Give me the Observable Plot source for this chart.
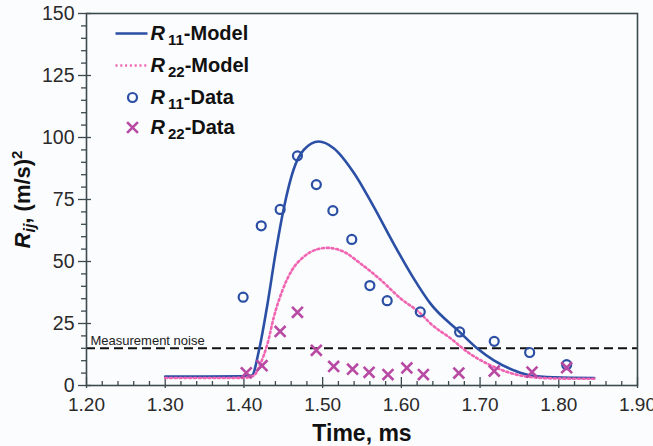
<!DOCTYPE html>
<html>
<head>
<meta charset="utf-8">
<script src="https://cdn.jsdelivr.net/npm/d3@7"></script>
<script src="https://cdn.jsdelivr.net/npm/@observablehq/plot@0.6"></script>
<style>
  html, body { margin: 0; padding: 0; background: #fbfcfe; }
  #chart svg { display: block; font-family: "Liberation Sans", Arial, sans-serif; }
</style>
</head>
<body>
<div id="chart"></div>
<script>
// Model curves: time (ms) and Reynolds stress (m/s)^2
const r11ModelT = [1.30, 1.35, 1.40, 1.41, 1.419, 1.43, 1.44, 1.451, 1.463, 1.476, 1.495, 1.514, 1.54, 1.565, 1.59, 1.616, 1.637, 1.674, 1.697, 1.718, 1.743, 1.764, 1.794, 1.845];
const r11ModelV = [3.6, 3.6, 3.7, 4.0, 14, 33, 53, 72, 87, 95, 98.4, 95.7, 85.6, 72, 57.3, 43, 33, 21.6, 14.8, 10, 6.1, 4.0, 3.3, 3.0];
const r22ModelT = [1.30, 1.35, 1.40, 1.4126, 1.421, 1.43, 1.438, 1.449, 1.461, 1.476, 1.493, 1.506, 1.527, 1.548, 1.574, 1.599, 1.6245, 1.637, 1.663, 1.684, 1.709, 1.735, 1.764, 1.80, 1.845];
const r22ModelV = [3.0, 3.0, 3.1, 4.0, 8.8, 16.9, 27.6, 38.4, 46.5, 51.9, 54.9, 55.5, 53.9, 49.2, 42.5, 35.1, 29, 25, 18.9, 13.5, 8.8, 5.4, 3.4, 2.8, 2.7];

// Measured data
const r11DataT = [1.399, 1.422, 1.446, 1.468, 1.492, 1.513, 1.537, 1.560, 1.582, 1.624, 1.674, 1.718, 1.763, 1.810];
const r11DataV = [35.6, 64.4, 71, 92.6, 81, 70.5, 58.9, 40.3, 34.2, 29.7, 21.6, 17.8, 13.3, 8.4];
const r22DataT = [1.403, 1.423, 1.446, 1.468, 1.492, 1.514, 1.538, 1.559, 1.583, 1.607, 1.628, 1.673, 1.718, 1.766, 1.810];
const r22DataV = [5.1, 8.0, 21.8, 29.5, 14.2, 7.7, 6.6, 5.3, 4.4, 7.1, 4.4, 5.0, 5.8, 5.4, 7.2];

const noiseLevel = 15;
const noiseLabel = "Measurement noise";

// Axes
const xTicks = [1.20, 1.30, 1.40, 1.50, 1.60, 1.70, 1.80, 1.90];
const xMinor = d3.range(0, 36).map(i => 1.2 + i * 0.02).filter(v => Math.abs(v * 10 - Math.round(v * 10)) > 1e-6);
const yTicks = [0, 25, 50, 75, 100, 125, 150];
const yMinor = d3.range(0, 151, 5).filter(v => v % 25 !== 0);
const xTitle = "Time, ms";
const yTitle = "Rij, (m/s)2";

// Legend
const legendSub = ["11", "22", "11", "22"];
const legendSuffix = ["-Model", "-Model", "-Data", "-Data"];

const blue = "#2b4fa5";
const pink = "#f064b2";
const magenta = "#b84aa3";
const frameColor = "#3c4a4e";
const dotted = "2,2.8";

const W = 653, H = 446;
const mL = 86, mR = 16, mT = 13, mB = 61;
const plotW = W - mL - mR, plotH = H - mT - mB;

const zip = (t, v) => t.map((x, i) => ({t: x, v: v[i]}));
const r11Model = zip(r11ModelT, r11ModelV);
const r22Model = zip(r22ModelT, r22ModelV);
const r11Data = zip(r11DataT, r11DataV);
const r22Data = zip(r22DataT, r22DataV);

// a horizontal stroke used as the legend's line sample
const hLine = { draw(ctx, size) { const w = Math.sqrt(size / Math.PI); ctx.moveTo(-w, 0); ctx.lineTo(w, 0); } };

// legend rows, offsets from the frame's top-left corner
const rowDy = [20, 52, 84, 114];
const legendStyles = [
  {symbol: hLine, r: 16, stroke: blue, strokeWidth: 2.6, dx: 45},
  {symbol: hLine, r: 16, stroke: pink, strokeWidth: 2.6, strokeDasharray: dotted, dx: 45},
  {symbol: "circle", r: 4.5, stroke: blue, strokeWidth: 2.2, dx: 46},
  {symbol: "times", r: 5, stroke: magenta, strokeWidth: 2.6, dx: 46}
];
const legendMarks = legendSub.flatMap((s, i) => [
  Plot.dot([0], {frameAnchor: "top-left", dy: rowDy[i], fill: "none", ...legendStyles[i]}),
  Plot.text(["R" + s + legendSuffix[i]], {frameAnchor: "top-left", dx: 64, dy: rowDy[i], lineAnchor: "middle", textAnchor: "start", fontSize: 20, fontWeight: "bold", fill: "#111"})
]);

const chart = Plot.plot({
  width: W, height: H,
  marginLeft: mL, marginRight: mR, marginTop: mT, marginBottom: mB,
  style: {background: "transparent", color: "#2a2a2a"},
  x: {domain: [1.2, 1.9]},
  y: {domain: [0, 150]},
  marks: [
    Plot.axisX({ticks: xTicks, tickFormat: d => d.toFixed(2), tickSize: 0, tickPadding: 12, fontSize: 19, label: null}),
    Plot.axisY({ticks: yTicks, tickSize: 0, tickPadding: 12, fontSize: 19.5, label: null}),
    Plot.tickX(xMinor, {x: d => d, insetTop: plotH - 4, stroke: frameColor, strokeWidth: 1.3}),
    Plot.tickX(xTicks, {x: d => d, insetTop: plotH - 8, insetBottom: -3, stroke: frameColor, strokeWidth: 1.3}),
    Plot.tickY(yMinor, {y: d => d, insetLeft: -5, insetRight: plotW, stroke: frameColor, strokeWidth: 1.3}),
    Plot.tickY(yTicks, {y: d => d, insetLeft: -8, insetRight: plotW - 5, stroke: frameColor, strokeWidth: 1.3}),
    Plot.ruleY([noiseLevel], {stroke: "#111", strokeWidth: 2, strokeDasharray: "9,5"}),
    Plot.text([noiseLabel], {y: () => noiseLevel, frameAnchor: "left", dx: 4, dy: -3, lineAnchor: "bottom", textAnchor: "start", fontSize: 13, fill: "#222"}),
    Plot.line(r11Model, {x: "t", y: "v", stroke: blue, strokeWidth: 2.6, curve: "monotone-x"}),
    Plot.line(r22Model, {x: "t", y: "v", stroke: pink, strokeWidth: 2.6, strokeDasharray: dotted, curve: "monotone-x"}),
    Plot.dot(r11Data, {x: "t", y: "v", r: 4.5, stroke: blue, strokeWidth: 2.2, fill: "none"}),
    Plot.dot(r22Data, {x: "t", y: "v", symbol: "times", r: 5, stroke: magenta, strokeWidth: 2.6}),
    Plot.frame({stroke: frameColor, strokeWidth: 1.6}),
    Plot.text([xTitle], {frameAnchor: "bottom", dy: 48, lineAnchor: "middle", textAnchor: "middle", fontSize: 23, fontWeight: "bold", fill: "#111"}),
    Plot.text([yTitle], {frameAnchor: "left", dx: -64, rotate: -90, lineAnchor: "middle", textAnchor: "middle", fontSize: 22, fontWeight: "bold", fill: "#111"}),
    ...legendMarks
  ]
});

document.getElementById("chart").append(chart);

// Typeset italic R with subscripts / superscripts in the legend and y title
function typeset(el, parts) {
  const t = d3.select(el);
  t.text(null);
  for (const p of parts) {
    const ts = t.append("tspan").text(p.text);
    if (p.italic) ts.attr("font-style", "italic");
    if (p.size) ts.attr("font-size", p.size);
    if (p.dy) ts.attr("dy", p.dy);
    if (p.dx) ts.attr("dx", p.dx);
  }
}
d3.select(chart).selectAll("text").each(function () {
  const s = this.textContent;
  let m;
  if ((m = /^R(\d\d)(-\w+)$/.exec(s))) {
    typeset(this, [
      {text: "R", italic: true},
      {text: m[1], size: 15, dy: 5, dx: 3},
      {text: m[2], dy: -5}
    ]);
  } else if (s === yTitle) {
    typeset(this, [
      {text: "R", italic: true},
      {text: "ij", italic: true, size: 16, dy: 5},
      {text: ", (m/s)", dy: -5},
      {text: "2", size: 15, dy: -8}
    ]);
  }
});
</script>
</body>
</html>
